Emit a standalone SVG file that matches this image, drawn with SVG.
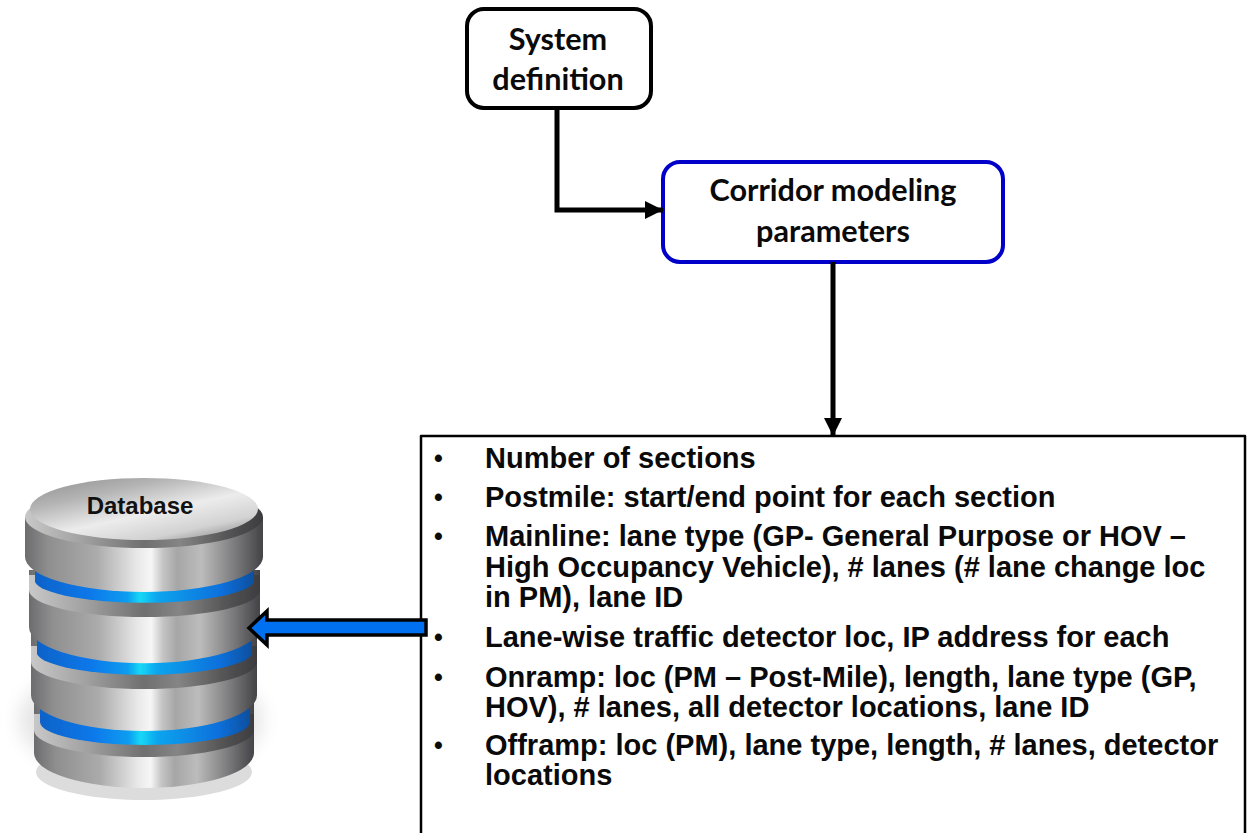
<svg xmlns="http://www.w3.org/2000/svg" width="1248" height="833" viewBox="0 0 1248 833">
<style>
.box{fill:#fff;stroke-linejoin:round}
.cal{font-family:Lato,"Open Sans",sans-serif;font-weight:700;font-size:30.6px;fill:#0a0a0a;text-anchor:middle}
.li{font-family:"Liberation Sans",Arial,sans-serif;font-weight:700;font-size:29px;fill:#0a0a0a}
.bu{font-family:"Liberation Sans",Arial,sans-serif;font-weight:700;font-size:25px;fill:#0a0a0a}
.conn{fill:none;stroke:#000;stroke-width:5}
</style>
<defs>
<marker id="ah" markerUnits="userSpaceOnUse" markerWidth="20" markerHeight="20" refX="18" refY="9" orient="auto"><path d="M0 0L18 9L0 18Z" fill="#000"/></marker>
<linearGradient id="metal" x1="0" x2="1" y1="0" y2="0">
<stop offset="0" stop-color="#6c6c6e"/><stop offset=".1" stop-color="#8f8f90"/><stop offset=".3" stop-color="#ababab"/><stop offset=".47" stop-color="#e8e8e8"/><stop offset=".53" stop-color="#f6f6f6"/><stop offset=".58" stop-color="#c4c4c4"/><stop offset=".64" stop-color="#a6a6a6"/><stop offset=".74" stop-color="#bcbcbc"/><stop offset=".88" stop-color="#7c7c7e"/><stop offset="1" stop-color="#434347"/>
</linearGradient>
<linearGradient id="bevel" x1="0" x2="1" y1="0" y2="0">
<stop offset="0" stop-color="#c8c8c8"/><stop offset=".25" stop-color="#a0a0a0"/><stop offset=".5" stop-color="#6f6f6f"/><stop offset=".65" stop-color="#858585"/><stop offset=".85" stop-color="#555"/><stop offset="1" stop-color="#3c3c40"/>
</linearGradient>
<linearGradient id="face" x1="0" x2=".8" y1="0" y2="1">
<stop offset="0" stop-color="#8d8d8d"/><stop offset=".3" stop-color="#b4b4b4"/><stop offset=".6" stop-color="#ececec"/><stop offset=".85" stop-color="#d2d2d2"/><stop offset="1" stop-color="#9a9a9a"/>
</linearGradient>
<linearGradient id="blue" x1="0" x2="1" y1="0" y2="0">
<stop offset="0" stop-color="#0c62c8"/><stop offset=".25" stop-color="#0a78ea"/><stop offset=".42" stop-color="#0e9cf0"/><stop offset=".48" stop-color="#14d8f6"/><stop offset=".56" stop-color="#0ea4ee"/><stop offset=".85" stop-color="#0a70dc"/><stop offset="1" stop-color="#0a4f9e"/>
</linearGradient>
<filter id="soft" x="-20%" y="-20%" width="140%" height="140%"><feGaussianBlur stdDeviation="9"/></filter>
<filter id="s1" x="-5%" y="-5%" width="110%" height="110%"><feGaussianBlur stdDeviation=".7"/></filter>
</defs>
<rect width="1248" height="833" fill="#fff"/>

<g id="database">
<ellipse cx="141" cy="720" rx="122" ry="62" fill="#e6e6e6" filter="url(#soft)"/>
<ellipse cx="144" cy="772" rx="108" ry="28" fill="#dcdcdc" filter="url(#s1)"/>
<g filter="url(#s1)">
<path d="M34 700V753A110 35 0 0 0 254 753V700Z" fill="url(#metal)"/>
<path d="M34 714V730A110 27 0 0 0 254 730V714Z" fill="url(#bevel)"/>
<path d="M40 690V722A105 23 0 0 0 250 722V690Z" fill="url(#blue)"/>
<path d="M31 630V695A113 36 0 0 0 257 695V630Z" fill="url(#metal)"/>
<path d="M31 646V662A113 27 0 0 0 257 662V646Z" fill="url(#bevel)"/>
<path d="M37 620V654A108 23 0 0 0 252 654V620Z" fill="url(#blue)"/>
<path d="M29 570V627A115 36 0 0 0 260 627V570Z" fill="url(#metal)"/>
<path d="M29 575V590A115 27 0 0 0 260 590V575Z" fill="url(#bevel)"/>
<path d="M35 550V582A110 23 0 0 0 254 582V550Z" fill="url(#blue)"/>
<path d="M25 517V557A119 35 0 0 0 263 557V517Z" fill="url(#metal)"/>
<ellipse cx="144" cy="517" rx="119" ry="31" fill="url(#bevel)"/>
<ellipse cx="144" cy="509" rx="114" ry="31" fill="url(#face)"/>
</g>
<text x="140" y="514" font-family="'Liberation Sans',Arial,sans-serif" font-weight="700" font-size="24" fill="#111" text-anchor="middle">Database</text>
</g>

<g id="system-definition">
<rect class="box" x="467" y="9" width="184" height="99" rx="17" stroke="#000" stroke-width="4"/>
<text class="cal" x="558" y="50">System</text>
<text class="cal" x="558" y="90">definition</text>
</g>
<g id="corridor-modeling-parameters">
<rect class="box" x="663" y="162" width="340" height="100" rx="17" stroke="#0000c8" stroke-width="4"/>
<text class="cal" x="833" y="201">Corridor modeling</text>
<text class="cal" x="833" y="242">parameters</text>
</g>
<g id="parameter-list">
<path class="box" d="M421 836V436H1245V836" stroke="#000" stroke-width="2.5"/>
<text class="bu" x="434" y="467">•</text><text class="li" x="485" y="468">Number of sections</text>
<text class="bu" x="434" y="506">•</text><text class="li" x="485" y="507">Postmile: start/end point for each section</text>
<text class="bu" x="434" y="545">•</text><text class="li" x="485" y="546">Mainline: lane type (GP- General Purpose or HOV –</text>
<text class="li" x="485" y="577">High Occupancy Vehicle), # lanes (# lane change loc</text>
<text class="li" x="485" y="607">in PM), lane ID</text>
<text class="bu" x="434" y="646">•</text><text class="li" x="485" y="647">Lane-wise traffic detector loc, IP address for each</text>
<text class="bu" x="434" y="686">•</text><text class="li" x="485" y="687">Onramp: loc (PM – Post-Mile), length, lane type (GP,</text>
<text class="li" x="485" y="717">HOV), # lanes, all detector locations, lane ID</text>
<text class="bu" x="434" y="754">•</text><text class="li" x="485" y="755">Offramp: loc (PM), lane type, length, # lanes, detector</text>
<text class="li" x="485" y="785">locations</text>
</g>
<g id="connectors">
<path class="conn" d="M557 108V210H663" marker-end="url(#ah)"/>
<path class="conn" d="M833 262V436" marker-end="url(#ah)"/>
<path d="M426 620H267V611L249 628L267 645V635H426Z" fill="#0070f0" stroke="#000" stroke-width="3.5"/>
</g>
</svg>
